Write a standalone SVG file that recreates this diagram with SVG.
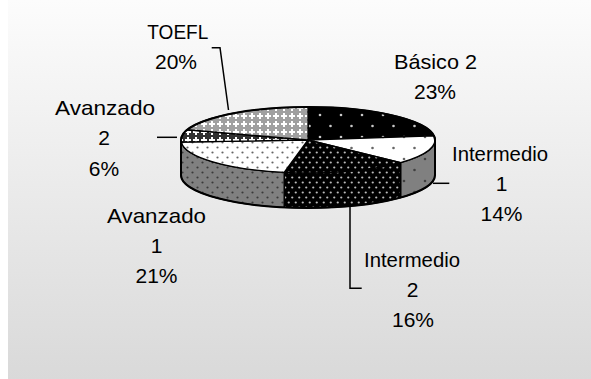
<svg xmlns="http://www.w3.org/2000/svg" width="591" height="379" viewBox="0 0 591 379">
<style>
.lbl{font-family:"Liberation Sans",Arial,sans-serif;font-size:21px;fill:#000;text-anchor:middle}
.sl{stroke:#000;stroke-width:1.4;stroke-linejoin:round}
.ld{fill:none;stroke:#000;stroke-width:1.5}
</style>
<defs>
<linearGradient id="bg" x1="0" y1="0" x2="0" y2="1">
<stop offset="0" stop-color="#fcfcfc"/>
<stop offset="1" stop-color="#d9d9d9"/>
</linearGradient>
<pattern id="pBas" width="21" height="22" patternUnits="userSpaceOnUse">
<rect width="21" height="22" fill="#000"/>
<circle cx="5" cy="5" r="1.3" fill="#c8c8c8"/>
<circle cx="15.5" cy="16" r="1.3" fill="#c8c8c8"/>
</pattern>
<pattern id="pI1t" width="21" height="22" patternUnits="userSpaceOnUse">
<rect width="21" height="22" fill="#fff"/>
<circle cx="5" cy="5" r="1.3" fill="#666"/>
<circle cx="15.5" cy="16" r="1.3" fill="#666"/>
</pattern>
<pattern id="pI1w" width="21" height="22" patternUnits="userSpaceOnUse">
<rect width="21" height="22" fill="#808080"/>
<circle cx="5" cy="5" r="1.3" fill="#404040"/>
<circle cx="15.5" cy="16" r="1.3" fill="#404040"/>
</pattern>
<pattern id="pI2" width="7" height="10" patternUnits="userSpaceOnUse">
<rect width="7" height="10" fill="#000"/>
<circle cx="1.75" cy="2.5" r="1.1" fill="#bbb"/>
<circle cx="5.25" cy="7.5" r="1.1" fill="#bbb"/>
</pattern>
<pattern id="pA1t" width="10" height="10" patternUnits="userSpaceOnUse">
<rect width="10" height="10" fill="#fff"/>
<circle cx="2.5" cy="2.5" r="1.1" fill="#666"/>
<circle cx="7.5" cy="7.5" r="1.1" fill="#666"/>
</pattern>
<pattern id="pA1w" width="10" height="10" patternUnits="userSpaceOnUse">
<rect width="10" height="10" fill="#808080"/>
<circle cx="2.5" cy="2.5" r="1.1" fill="#3a3a3a"/>
<circle cx="7.5" cy="7.5" r="1.1" fill="#3a3a3a"/>
</pattern>
<pattern id="pTo" width="8" height="8" patternUnits="userSpaceOnUse">
<rect width="8" height="8" fill="#a0a0a0"/>
<rect x="3" y="1" width="2" height="6" fill="#fff"/>
<rect x="1" y="3" width="6" height="2" fill="#fff"/>
</pattern>
<pattern id="pA2" width="8" height="8" patternUnits="userSpaceOnUse">
<rect width="8" height="8" fill="#303030"/>
<rect x="3" y="1" width="2" height="6" fill="#fff"/>
<rect x="1" y="3" width="6" height="2" fill="#fff"/>
</pattern>
</defs>
<rect width="591" height="379" fill="#fff"/>
<rect x="8" y="0" width="583" height="379" fill="url(#bg)"/>

<g id="basico2">
<path class="sl" fill="url(#pBas)" d="M434,135.9 A127,33 0 0 1 435,140 L435,175 A127,33 0 0 0 434,170.9 Z"/>
<path class="sl" fill="url(#pBas)" d="M308,140 L308,107 A127,33 0 0 1 434,135.9 Z"/>
<text class="lbl" x="435.5" y="69.3" textLength="83" lengthAdjust="spacingAndGlyphs">Básico 2</text>
<text class="lbl" x="435" y="99.3">23%</text>
</g>
<g id="intermedio1">
<path class="sl" fill="url(#pI1w)" d="M435,140 A127,33 0 0 1 400.6,162.6 L400.6,197.6 A127,33 0 0 0 435,175 Z"/>
<path class="sl" fill="url(#pI1t)" d="M308,140 L434,135.9 A127,33 0 0 1 400.6,162.6 Z"/>
<text class="lbl" x="500" y="160.7" textLength="96" lengthAdjust="spacingAndGlyphs">Intermedio</text>
<text class="lbl" x="501.5" y="190.7">1</text>
<text class="lbl" x="501.5" y="220.7">14%</text>
</g>
<g id="intermedio2">
<path class="sl" fill="url(#pI2)" d="M400.6,162.6 A127,33 0 0 1 284.2,172.4 L284.2,207.4 A127,33 0 0 0 400.6,197.6 Z"/>
<path class="sl" fill="url(#pI2)" d="M308,140 L400.6,162.6 A127,33 0 0 1 284.2,172.4 Z"/>
<text class="lbl" x="412" y="266.7" textLength="96" lengthAdjust="spacingAndGlyphs">Intermedio</text>
<text class="lbl" x="412.7" y="297.3">2</text>
<text class="lbl" x="413" y="327.3">16%</text>
</g>
<g id="avanzado1">
<path class="sl" fill="url(#pA1w)" d="M284.2,172.4 A127,33 0 0 1 181.3,142.1 L181.3,177.1 A127,33 0 0 0 284.2,207.4 Z"/>
<path class="sl" fill="url(#pA1t)" d="M308,140 L284.2,172.4 A127,33 0 0 1 181.3,142.1 Z"/>
<text class="lbl" x="156.5" y="223.3" textLength="99" lengthAdjust="spacingAndGlyphs">Avanzado</text>
<text class="lbl" x="156.7" y="253">1</text>
<text class="lbl" x="156.5" y="283">21%</text>
</g>
<g id="avanzado2">
<path class="sl" fill="url(#pA2)" d="M181.3,142.1 A127,33 0 0 1 181,140 L181,175 A127,33 0 0 0 181.3,177.1 Z"/>
<path class="sl" fill="url(#pA2)" d="M308,140 L181.3,142.1 A127,33 0 0 1 187.2,129.8 Z"/>
<text class="lbl" x="105" y="115" textLength="100" lengthAdjust="spacingAndGlyphs">Avanzado</text>
<text class="lbl" x="104" y="145">2</text>
<text class="lbl" x="104" y="175.5">6%</text>
</g>
<g id="toefl">
<path class="sl" fill="url(#pTo)" d="M308,140 L187.2,129.8 A127,33 0 0 1 308,107 Z"/>
<text class="lbl" x="177.8" y="39.3" textLength="61" lengthAdjust="spacingAndGlyphs">TOEFL</text>
<text class="lbl" x="176" y="69.3">20%</text>
</g>
<path fill="none" stroke="#000" stroke-width="2" stroke-linejoin="round" d="M181,140 A127,33 0 0 1 435,140 L435,175 A127,33 0 0 1 181,175 Z"/>

<g id="connectors">
<polyline class="ld" points="211.7,47.7 220,47.7 228.5,110"/>
<line class="ld" x1="157" y1="137.3" x2="177" y2="137.3"/>
<line class="ld" x1="433" y1="183.3" x2="449.3" y2="183.3"/>
<polyline class="ld" points="350,207 350,288.3 361.7,288.3"/>
</g>
</svg>
